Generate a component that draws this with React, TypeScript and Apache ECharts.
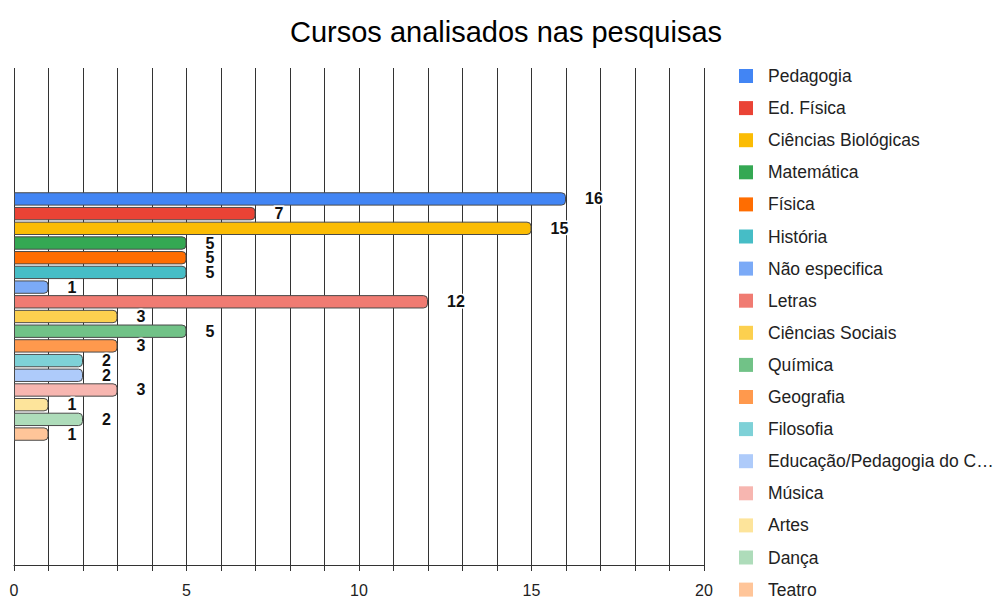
import React, { useEffect, useRef } from "react";
import * as echarts from "echarts";

const names = [
  "Pedagogia",
  "Ed. Física",
  "Ciências Biológicas",
  "Matemática",
  "Física",
  "História",
  "Não especifica",
  "Letras",
  "Ciências Sociais",
  "Química",
  "Geografia",
  "Filosofia",
  "Educação/Pedagogia do Campo",
  "Música",
  "Artes",
  "Dança",
  "Teatro",
];
const values = [16, 7, 15, 5, 5, 5, 1, 12, 3, 5, 3, 2, 2, 3, 1, 2, 1];
const colors = [
  "#4285f4", "#ea4335", "#fbbc04", "#34a853", "#ff6d01", "#46bdc6",
  "#7baaf7", "#f07b72", "#fcd04f", "#71c287", "#ff994d", "#7ed1d7",
  "#aecbfa", "#f7b6b0", "#fde49b", "#aedcba", "#ffc599",
];
const xTicks = [0, 5, 10, 15, 20];

const FONT = "Arial, 'Liberation Sans', sans-serif";
const LEGEND_FONT_SIZE = 17.5;
const LEGEND_MAX_CHARS = 23;

function truncate(name: string): string {
  return name.length > LEGEND_MAX_CHARS ? name.slice(0, LEGEND_MAX_CHARS) + "…" : name;
}

export default function App() {
  const ref = useRef<HTMLDivElement>(null);
  useEffect(() => {
    const chart = echarts.init(ref.current!, null, { renderer: "svg" });
    chart.setOption({
      animation: false,
      backgroundColor: "#ffffff",
      textStyle: { fontFamily: FONT },
      title: {
        text: "Cursos analisados nas pesquisas",
        left: 285,
        top: 12,
        textStyle: { fontSize: 29, fontWeight: "normal", color: "#000", fontFamily: FONT },
      },
      legend: {
        orient: "vertical",
        left: 734,
        top: 62,
        height: 700,
        icon: "rect",
        itemWidth: 14,
        itemHeight: 14,
        itemGap: 14.1,
        data: names,
        itemStyle: { borderWidth: 0 },
        formatter: (n: string) => truncate(n),
        textStyle: {
          fontSize: LEGEND_FONT_SIZE,
          lineHeight: 14,
          color: "#222",
          fontFamily: FONT,
          padding: [0, 0, 0, 10],
        },
      },
      grid: { left: 14, right: 291, top: 68, bottom: 34, containLabel: false },
      xAxis: {
        type: "value",
        min: 0,
        max: 20,
        interval: 1,
        axisLine: { show: true, lineStyle: { color: "#333", width: 1 } },
        axisTick: { show: true, length: 6, lineStyle: { color: "#333" } },
        splitLine: { show: true, lineStyle: { color: "#333", width: 1 } },
        axisLabel: {
          fontSize: 16,
          color: "#222",
          margin: 17,
          fontFamily: FONT,
          formatter: (v: number) => (xTicks.includes(v) ? String(v) : ""),
        },
      },
      yAxis: {
        type: "category",
        data: [""],
        axisLine: { show: false },
        axisTick: { show: false },
        axisLabel: { show: false },
        splitLine: { show: false },
      },
      series: names.map((n, i) => ({
        type: "bar",
        name: n,
        data: [values[i]],
        barGap: "10%",
        barCategoryGap: "50%",
        itemStyle: {
          color: colors[i],
          borderColor: "#4a4a4a",
          borderWidth: 1,
          borderRadius: [0, 4, 4, 0],
        },
        label: {
          show: true,
          position: "right",
          distance: 19,
          fontSize: 16,
          fontWeight: "bold",
          color: "#111",
          fontFamily: FONT,
          textBorderColor: "#fff",
          textBorderWidth: 3,
        },
      })),
    });
    return () => chart.dispose();
  }, []);
  return (
    <div
      ref={ref}
      style={{ position: "absolute", left: 0, top: 0, width: 995, height: 599 }}
    />
  );
}
